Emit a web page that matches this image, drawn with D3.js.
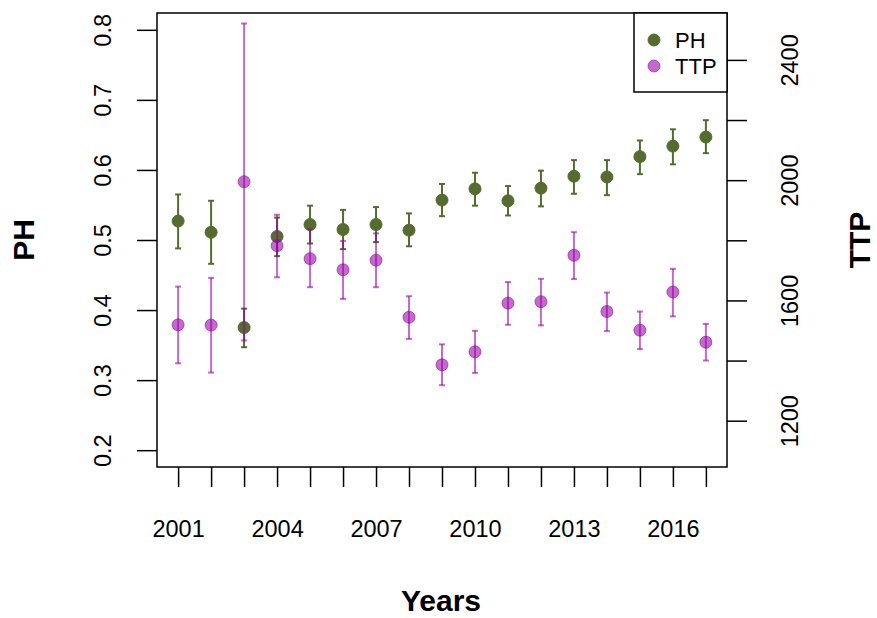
<!DOCTYPE html>
<html>
<head>
<meta charset="utf-8">
<script src="https://cdn.jsdelivr.net/npm/d3@7"></script>
<style>
    body { margin: 0; background: #fff; }
    svg { display: block; font-family: "Liberation Sans", Arial, sans-serif; }
</style>
</head>
<body>
<svg id="chart"></svg>
<script>
    // years on the x axis
    var years = [2001, 2002, 2003, 2004, 2005, 2006, 2007, 2008, 2009, 2010, 2011, 2012, 2013, 2014, 2015, 2016, 2017];
    var yearLabels = [2001, 2004, 2007, 2010, 2013, 2016];

    // PH series (mean and error bar ends)
    var phMean = [0.527, 0.511, 0.375, 0.505, 0.522, 0.515, 0.522, 0.514, 0.557, 0.573, 0.556, 0.574, 0.591, 0.590, 0.619, 0.634, 0.647];
    var phLow = [0.488, 0.466, 0.347, 0.477, 0.495, 0.487, 0.497, 0.491, 0.534, 0.549, 0.535, 0.548, 0.566, 0.564, 0.594, 0.608, 0.624];
    var phHigh = [0.565, 0.556, 0.402, 0.532, 0.549, 0.543, 0.547, 0.538, 0.580, 0.596, 0.577, 0.599, 0.614, 0.614, 0.642, 0.658, 0.671];

    // TTP series (mean and error bar ends)
    var ttpMean = [1519, 1518, 1995, 1782, 1739, 1702, 1734, 1544, 1386, 1429, 1591, 1596, 1750, 1563, 1501, 1628, 1461];
    var ttpLow = [1391, 1360, 1467, 1677, 1644, 1605, 1644, 1472, 1318, 1359, 1519, 1517, 1671, 1498, 1438, 1547, 1400];
    var ttpHigh = [1646, 1675, 2521, 1885, 1837, 1798, 1823, 1614, 1454, 1499, 1661, 1672, 1827, 1626, 1563, 1705, 1522];

    // axis ticks
    var phTicks = [0.2, 0.3, 0.4, 0.5, 0.6, 0.7, 0.8];
    var ttpTicks = [1200, 1400, 1600, 1800, 2000, 2200, 2400];
    var ttpLabels = [1200, 1600, 2000, 2400];

    var cfg = {
        width: 877,
        height: 618,
        box: {left: 157, right: 727, top: 13, bottom: 467},
        tickSize: 20,
        fontSize: 23.5,
        titleSize: 30,
        phColor: "#556b2f",
        ttpColor: "rgba(150, 0, 165, 0.58)",
        radius: 6,
        cap: 3
    };

    var svg = d3.select("#chart").attr("width", cfg.width).attr("height", cfg.height);

    var x = d3.scaleLinear().domain([2000.36, 2017.64]).range([cfg.box.left, cfg.box.right]);
    var yPH = d3.scaleLinear().domain([0.176, 0.824]).range([cfg.box.bottom, cfg.box.top]);
    var yTTP = d3.scaleLinear().domain([1046, 2556]).range([cfg.box.bottom, cfg.box.top]);

    var rows = years.map(function (yr, i) {
        return {
            year: yr,
            ph: phMean[i], phLo: phLow[i], phHi: phHigh[i],
            ttp: ttpMean[i], ttpLo: ttpLow[i], ttpHi: ttpHigh[i]
        };
    });

    /**
     * 画误差线和点
     */
    var drawSeries = function (scale, key, color) {
        var g = svg.append("g");
        var bars = g.selectAll(".bar").data(rows).enter().append("g")
            .attr("stroke", color)
            .attr("stroke-width", 2)
            .attr("fill", "none");
        bars.append("line")
            .attr("x1", function (d) { return x(d.year); })
            .attr("x2", function (d) { return x(d.year); })
            .attr("y1", function (d) { return scale(d[key + "Lo"]); })
            .attr("y2", function (d) { return scale(d[key + "Hi"]); });
        ["Lo", "Hi"].forEach(function (end) {
            bars.append("line")
                .attr("x1", function (d) { return x(d.year) - cfg.cap; })
                .attr("x2", function (d) { return x(d.year) + cfg.cap; })
                .attr("y1", function (d) { return scale(d[key + end]); })
                .attr("y2", function (d) { return scale(d[key + end]); });
        });
        g.selectAll("circle").data(rows).enter().append("circle")
            .attr("cx", function (d) { return x(d.year); })
            .attr("cy", function (d) { return scale(d[key]); })
            .attr("r", cfg.radius)
            .attr("fill", color)
            .attr("stroke", color)
            .attr("stroke-width", 1);
    };

    drawSeries(yPH, "ph", cfg.phColor);
    drawSeries(yTTP, "ttp", cfg.ttpColor);

    // 画框
    svg.append("rect")
        .attr("x", cfg.box.left)
        .attr("y", cfg.box.top)
        .attr("width", cfg.box.right - cfg.box.left)
        .attr("height", cfg.box.bottom - cfg.box.top)
        .attr("fill", "none")
        .attr("stroke", "#000")
        .attr("stroke-width", 1.5);

    // 画坐标
    var styleAxis = function (g) {
        g.select(".domain").remove();
        g.selectAll("line").attr("stroke", "#000").attr("stroke-width", 1.5);
        g.selectAll("text").attr("fill", "#000").style("font-size", cfg.fontSize + "px");
    };

    var gx = svg.append("g")
        .attr("transform", "translate(0," + cfg.box.bottom + ")")
        .call(d3.axisBottom(x).tickValues(years).tickSize(cfg.tickSize)
            .tickFormat(function (d) { return yearLabels.indexOf(d) >= 0 ? d : ""; }));
    styleAxis(gx);
    gx.selectAll("text").attr("y", 70).attr("dy", 0);

    var gl = svg.append("g")
        .attr("transform", "translate(" + cfg.box.left + ",0)")
        .call(d3.axisLeft(yPH).tickValues(phTicks).tickSize(cfg.tickSize).tickFormat(d3.format(".1f")));
    styleAxis(gl);
    gl.selectAll("text")
        .attr("transform", "rotate(-90)")
        .attr("x", 0).attr("y", -46).attr("dy", 0)
        .style("text-anchor", "middle");

    var gr = svg.append("g")
        .attr("transform", "translate(" + cfg.box.right + ",0)")
        .call(d3.axisRight(yTTP).tickValues(ttpTicks).tickSize(cfg.tickSize)
            .tickFormat(function (d) { return ttpLabels.indexOf(d) >= 0 ? d : ""; }));
    styleAxis(gr);
    gr.selectAll("text")
        .attr("transform", "rotate(-90)")
        .attr("x", 0).attr("y", 71).attr("dy", 0)
        .style("text-anchor", "middle");

    // 轴标题
    svg.append("text")
        .attr("x", 441).attr("y", 611)
        .attr("text-anchor", "middle")
        .style("font-size", cfg.titleSize + "px").style("font-weight", "bold")
        .text("Years");
    svg.append("text")
        .attr("transform", "translate(34,240) rotate(-90)")
        .attr("text-anchor", "middle")
        .style("font-size", cfg.titleSize + "px").style("font-weight", "bold")
        .text("PH");
    svg.append("text")
        .attr("transform", "translate(870,240) rotate(-90)")
        .attr("text-anchor", "middle")
        .style("font-size", cfg.titleSize + "px").style("font-weight", "bold")
        .text("TTP");

    // 图例
    var legend = svg.append("g");
    legend.append("rect")
        .attr("x", 634).attr("y", cfg.box.top)
        .attr("width", cfg.box.right - 634).attr("height", 79)
        .attr("fill", "#fff").attr("stroke", "#000").attr("stroke-width", 1.5);
    [["PH", cfg.phColor], ["TTP", cfg.ttpColor]].forEach(function (item, i) {
        legend.append("circle")
            .attr("cx", 654).attr("cy", 40 + i * 26)
            .attr("r", cfg.radius)
            .attr("fill", item[1]).attr("stroke", item[1]);
        legend.append("text")
            .attr("x", 675).attr("y", 48 + i * 26)
            .style("font-size", "22px")
            .text(item[0]);
    });
</script>
</body>
</html>
